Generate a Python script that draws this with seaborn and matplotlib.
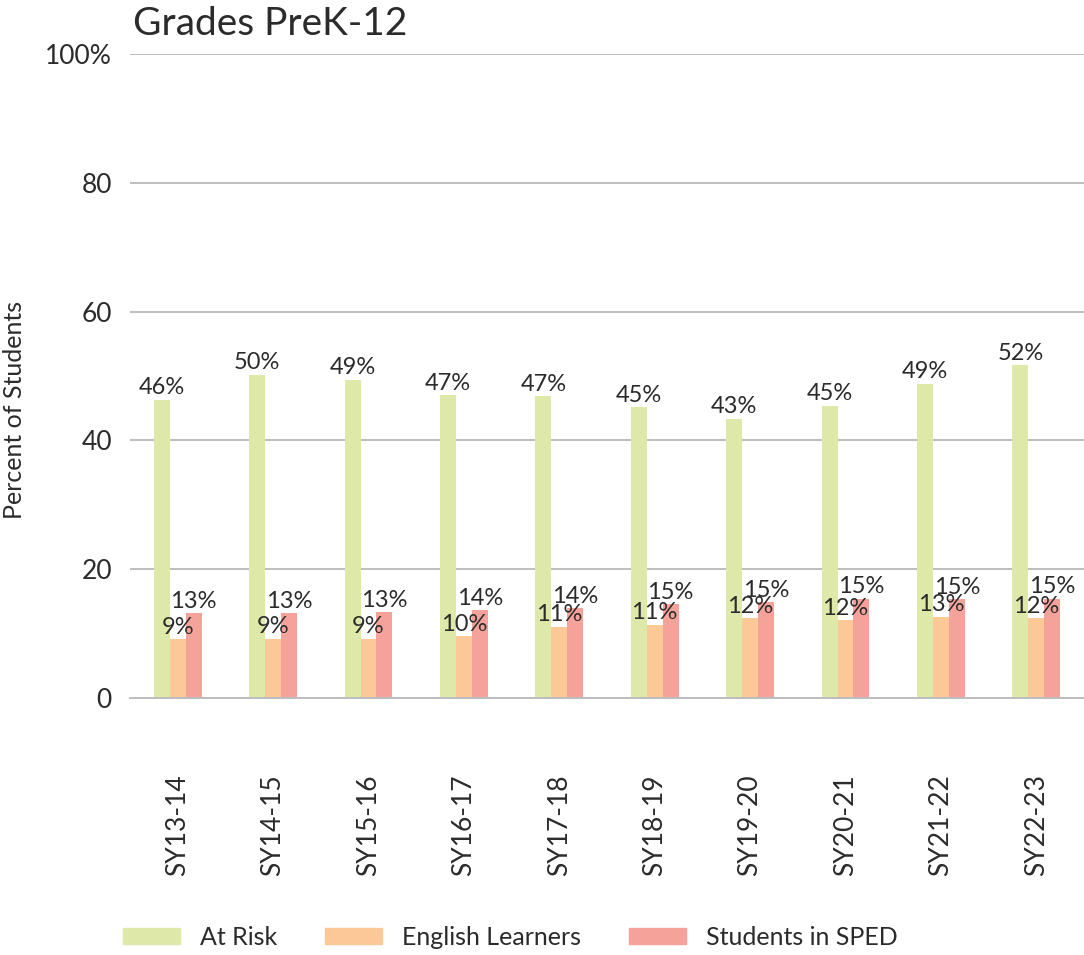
import pandas as pd
import numpy as np
import matplotlib
matplotlib.use("Agg")
import matplotlib.pyplot as plt
import seaborn as sns

# === data ===
years = ["SY13-14", "SY14-15", "SY15-16", "SY16-17", "SY17-18",
         "SY18-19", "SY19-20", "SY20-21", "SY21-22", "SY22-23"]
at_risk = [46.3, 50.2, 49.4, 47.0, 46.9, 45.2, 43.4, 45.4, 48.8, 51.7]
english_learners = [9.1, 9.2, 9.2, 9.6, 11.1, 11.4, 12.4, 12.1, 12.6, 12.4]
sped = [13.2, 13.2, 13.3, 13.6, 13.9, 14.6, 14.9, 15.4, 15.3, 15.4]
groups = ["At Risk", "English Learners", "Students in SPED"]
colors = ["#DEE8A8", "#FCC898", "#F5A29B"]

df = pd.DataFrame({"year": years, groups[0]: at_risk,
                   groups[1]: english_learners, groups[2]: sped})
long = df.melt(id_vars="year", var_name="group", value_name="pct")

sns.set_theme(style="white")
plt.rcParams["font.family"] = ["Lato", "DejaVu Sans"]
TXT = "#2b2b2b"

fig = plt.figure(figsize=(10.84, 9.55), dpi=100)
ax = fig.add_axes([130 / 1084, 1 - 698 / 955, 954 / 1084, 644 / 955])

sns.barplot(data=long, x="year", y="pct", hue="group", hue_order=groups,
            palette=colors, width=0.5, saturation=1, ax=ax, legend=False,
            edgecolor="none", linewidth=0)

for cont in ax.containers:
    ax.bar_label(cont, labels=[f"{v:.0f}%" for v in cont.datavalues],
                 padding=1, fontsize=17, color=TXT)

ax.set_ylim(0, 100)
ax.set_xlim(-0.5, len(years) - 0.5)
ax.set_yticks([0, 20, 40, 60, 80, 100])
ax.set_yticklabels(["0", "20", "40", "60", "80", "100%"])
ax.yaxis.grid(True, color="#BDBDBD", linewidth=1.4)
ax.set_axisbelow(True)
for s in ["top", "right", "left"]:
    ax.spines[s].set_visible(False)
ax.spines["bottom"].set_color("#BDBDBD")
ax.spines["bottom"].set_linewidth(1.4)
ax.tick_params(axis="y", length=0, pad=13, labelsize=19, labelcolor=TXT)
ax.tick_params(axis="x", length=0, pad=55, labelsize=19, labelcolor=TXT)
plt.setp(ax.get_xticklabels(), rotation=90)
ax.set_xlabel("")
ax.set_ylabel("")
fig.text(15 / 1084, 1 - 410 / 955, "Percent of Students", rotation=90,
         ha="center", va="center", fontsize=18, color=TXT)

fig.text(133 / 1084, 1 - 24 / 955, "Grades PreK-12", ha="left", va="center",
         fontsize=28, color=TXT)

handles = [plt.Rectangle((0, 0), 1, 1, color=c) for c in colors]
fig.legend(handles, groups, loc="center left", ncol=3,
           bbox_to_anchor=(100 / 1084, 1 - 937 / 955), frameon=False,
           fontsize=18, handlelength=2.3, handleheight=0.6,
           columnspacing=1.9, handletextpad=0.8, labelcolor=TXT)

fig.savefig("out.png", dpi=100)
